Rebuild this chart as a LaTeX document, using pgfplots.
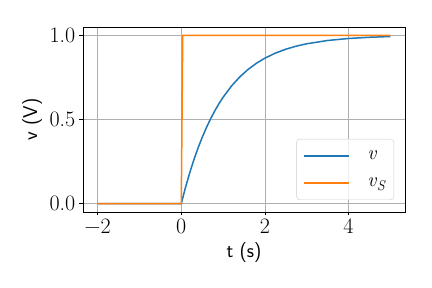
\documentclass[border=0pt]{standalone}
\usepackage{fontspec}
\usepackage{pgfplots}
\pgfplotsset{compat=1.18}
\definecolor{tabblue}{HTML}{1F77B4}
\definecolor{taborange}{HTML}{FF7F0E}
\newcommand\tkfont{\fontsize{22}{26}\selectfont}
\newcommand\legfont{\fontsize{20}{24}\selectfont}
\begin{document}
\begin{tikzpicture}
\path[use as bounding box] (-83pt,-76pt) rectangle (349pt,212pt);
\begin{axis}[
  at={(0,0)}, anchor=south west,
  scale only axis, width=322pt, height=185pt,
  xmin=-2.35, xmax=5.35, ymin=-0.05, ymax=1.05,
  xtick={-2,0,2,4}, xticklabels={{\tkfont −2},{\tkfont 0},{\tkfont 2},{\tkfont 4}},
  ytick={0,0.5,1}, yticklabels={{\tkfont 0.0},{\tkfont 0.5},{\tkfont 1.0}},
  yticklabel style={inner xsep=4pt},
  xlabel style={font=\fontsize{20}{24}\selectfont\sffamily, yshift=-2pt},
  ylabel style={font=\fontsize{20}{24}\selectfont\sffamily},
  xlabel={t (s)}, ylabel={v (V)},
  tick align=outside, tick pos=left,
  major tick length=3.5pt,
  grid=major, grid style={color=black!31, line width=0.8pt},
  axis line style={line width=0.8pt},
  major tick style={black, line width=0.8pt},
  legend style={at={(0.966,0.065)}, anchor=south east, draw=black!20, rounded corners=3pt, fill=white, fill opacity=0.8, text opacity=1, draw opacity=1, row sep=12pt, inner xsep=6pt, inner ysep=10pt},
  legend cell align=left,
  legend image code/.code={\draw[#1, line width=1.8pt, draw opacity=1] (0pt,0pt) -- (45pt,0pt);},
]
\addplot[color=tabblue, line width=1.5pt] coordinates {
(-2,0) (0,0) (0.1,0.0952) (0.2,0.1813) (0.3,0.2592) (0.4,0.3297) (0.5,0.3935)
(0.6,0.4512) (0.7,0.5034) (0.8,0.5507) (0.9,0.5934) (1.0,0.6321) (1.2,0.6988)
(1.4,0.7534) (1.6,0.7981) (1.8,0.8347) (2.0,0.8647) (2.25,0.8946) (2.5,0.9179)
(2.75,0.9361) (3.0,0.9502) (3.5,0.9698) (4.0,0.9817) (4.5,0.9889) (5.0,0.9933)};
\addlegendentry{\legfont\hspace{16pt}\textit{v}}
\addplot[color=taborange, line width=1.5pt] coordinates {(-2,0) (0,0) (0.035,1) (5,1)};
\addlegendentry{\legfont\hspace{16pt}\textit{v}\raisebox{-0.2em}{\fontsize{14}{16}\selectfont\textit{S}}}
\end{axis}
\end{tikzpicture}
\end{document}
